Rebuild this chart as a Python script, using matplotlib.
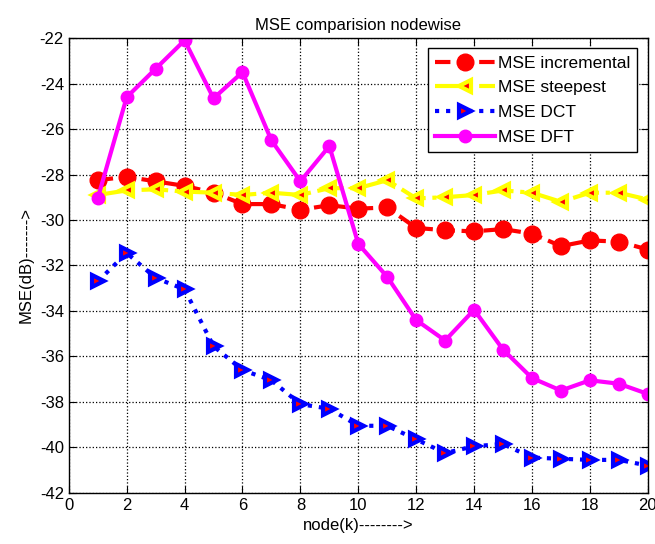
import matplotlib
matplotlib.use("Agg")
import matplotlib.pyplot as plt

nodes = list(range(1, 21))
mse_incremental = [-28.25, -28.1, -28.3, -28.5, -28.8, -29.3, -29.3, -29.55, -29.35, -29.5,
                   -29.45, -30.35, -30.45, -30.5, -30.4, -30.6, -31.15, -30.9, -30.95, -31.3]
mse_steepest = [-28.9, -28.7, -28.65, -28.75, -28.8, -28.9, -28.8, -28.9, -28.6, -28.6,
                -28.25, -29.05, -29.0, -28.9, -28.7, -28.8, -29.2, -28.8, -28.8, -29.1]
mse_dct = [-32.7, -31.45, -32.55, -33.05, -35.55, -36.6, -37.05, -38.1, -38.3, -39.05,
           -39.05, -39.65, -40.25, -39.95, -39.85, -40.45, -40.5, -40.55, -40.55, -40.8]
mse_dft = [-29.05, -24.6, -23.35, -22.1, -24.65, -23.5, -26.5, -28.3, -26.75, -31.05,
           -32.5, -34.4, -35.3, -33.95, -35.7, -36.95, -37.5, -37.05, -37.2, -37.65]

plt.rcParams["font.family"] = ["Liberation Sans", "DejaVu Sans"]
plt.rcParams["axes.unicode_minus"] = False

fig = plt.figure(figsize=(6.55, 5.44), dpi=100)
ax = fig.add_axes([0.105, 0.094, 0.884, 0.836])

ax.plot(nodes, mse_incremental, "--o", color="red", linewidth=3, markersize=12,
        markerfacecolor="red", markeredgecolor="red", label="MSE incremental")
ax.plot(nodes, mse_steepest, "-.<", color="yellow", linewidth=3, markersize=9,
        markerfacecolor="red", markeredgecolor="yellow", markeredgewidth=3,
        label="MSE steepest")
ax.plot(nodes, mse_dct, ":>", color="blue", linewidth=3, markersize=9,
        markerfacecolor="red", markeredgecolor="blue", markeredgewidth=3,
        label="MSE DCT")
ax.plot(nodes, mse_dft, "-o", color="magenta", linewidth=3, markersize=9,
        markerfacecolor="magenta", markeredgecolor="magenta", label="MSE DFT")

ax.set_xlim(0, 20)
ax.set_ylim(-42, -22)
ax.set_xticks(range(0, 21, 2))
ax.set_yticks(range(-42, -21, 2))
ax.grid(True, linestyle=":", color="black", linewidth=0.9)
ax.tick_params(direction="in", top=True, right=True, labelsize=12, length=5)
for s in ax.spines.values():
    s.set_linewidth(1)

ax.set_title("MSE comparision nodewise", fontsize=12)
ax.set_xlabel("node(k)-------->", fontsize=12)
ax.set_ylabel("MSE(dB)------->", fontsize=12)

leg = ax.legend(loc="upper right", fontsize=12.5, fancybox=False, framealpha=1,
                edgecolor="black", handlelength=3.5, borderpad=0.4, labelspacing=0.55,
                handletextpad=0.15, borderaxespad=0.6)
leg.get_frame().set_linewidth(1)

fig.savefig("out.png", dpi=100)
